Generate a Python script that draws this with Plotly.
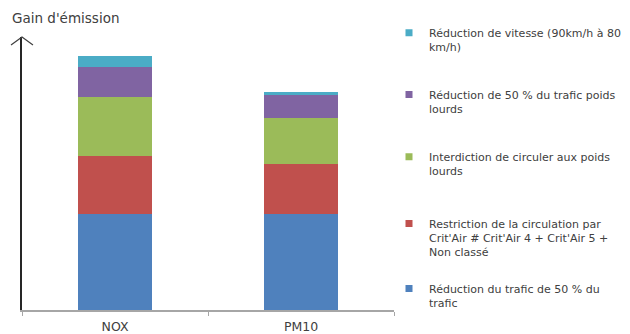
import plotly.graph_objects as go

categories = ["NOX", "PM10"]
series_names = [
    "Réduction du trafic de 50 % du<br>trafic",
    "Restriction de la circulation par<br>Crit'Air # Crit'Air 4 + Crit'Air 5 +<br>Non classé",
    "Interdiction de circuler aux poids<br>lourds",
    "Réduction de 50 % du trafic poids<br>lourds",
    "Réduction de vitesse (90km/h à 80<br>km/h)",
]
blue_vals = [95.7, 95.7]
red_vals = [58.3, 50.0]
green_vals = [59.3, 46.0]
purple_vals = [29.4, 23.4]
cyan_vals = [11.6, 2.5]
series_values = [blue_vals, red_vals, green_vals, purple_vals, cyan_vals]
colors = ["#4F81BD", "#C0504D", "#9BBB59", "#8064A2", "#4BACC6"]
legend_ids = ["legend5", "legend4", "legend3", "legend2", "legend"]
legend_first_line_y = [288.3, 223.3, 156.7, 94.3, 32.7]  # pixel centers of first text line

W, H = 630, 334
FONT = "DejaVu Sans"
TXT = "#404040"

fig = go.Figure()
for name, vals, col in zip(series_names, series_values, colors):
    fig.add_trace(go.Bar(x=categories, y=vals, marker=dict(color=col, line=dict(width=0)),
                         showlegend=False, width=0.4))
# legend-only entries
for name, col, lid in zip(series_names, colors, legend_ids):
    fig.add_trace(go.Scatter(x=[None], y=[None], mode="markers", name=name, legend=lid,
                             marker=dict(symbol="square", size=7, color=col)))

legend_layout = {}
for lid, yc in zip(legend_ids, legend_first_line_y):
    legend_layout[lid] = dict(
        xref="container", yref="container",
        x=389 / W, y=1 - (yc - 13.5) / H, xanchor="left", yanchor="top",
        bgcolor="rgba(0,0,0,0)", borderwidth=0, valign="top",
        font=dict(family=FONT, size=11, color=TXT),
    )

fig.update_layout(
    width=W, height=H,
    margin=dict(l=22, r=236, t=37, b=24, autoexpand=False),
    paper_bgcolor="white", plot_bgcolor="white",
    barmode="stack", bargap=0.6,
    showlegend=True,
    title=dict(text="Gain d'émission", xref="container", yref="container",
               x=12 / W, y=1 - 18 / H, xanchor="left", yanchor="middle",
               font=dict(family=FONT, size=13.5, color=TXT)),
    xaxis=dict(
        type="category", range=[-0.5, 1.5], automargin=False,
        showline=True, linecolor="#A6A6A6", linewidth=1.5,
        ticks="outside", tickson="boundaries", ticklen=4, tickcolor="#A6A6A6",
        showgrid=False, zeroline=False, ticklabelstandoff=4,
        tickfont=dict(family=FONT, size=12.5, color=TXT),
    ),
    yaxis=dict(
        range=[0, 273], showline=True, linecolor="#262626", linewidth=1.5, automargin=False,
        showticklabels=False, ticks="", showgrid=False, zeroline=False,
    ),
    shapes=[
        dict(type="path", xref="paper", yref="paper", xsizemode="pixel", ysizemode="pixel",
             xanchor=0, yanchor=1, path="M-11,-8 L0,0 L11,-8",
             line=dict(color="#404040", width=1.2)),
    ],
    **legend_layout,
)

fig.write_html("out.html")
